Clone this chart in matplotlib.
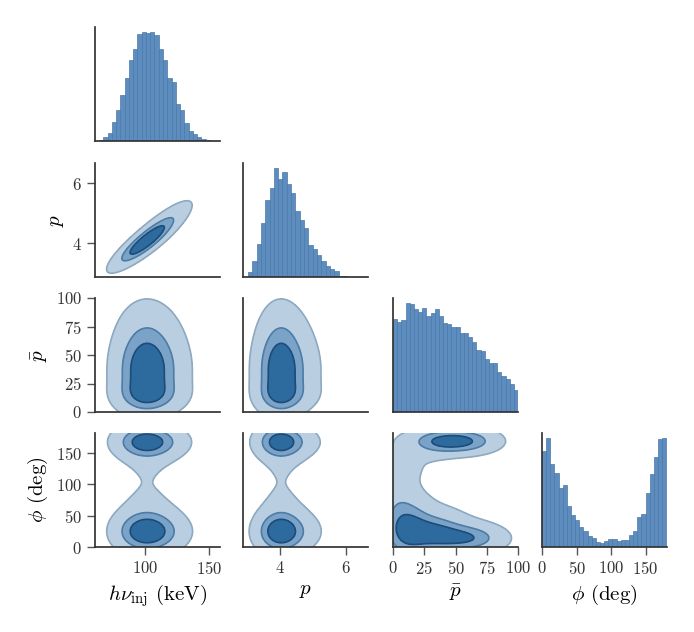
import numpy as np
import matplotlib.pyplot as plt

plt.rcParams['font.family'] = 'serif'
plt.rcParams['font.serif'] = ['cmr10']
plt.rcParams['mathtext.fontset'] = 'cm'
plt.rcParams['axes.formatter.use_mathtext'] = True

# diagonal histograms: bar heights
hv_counts = [4, 11, 24, 55, 92, 137, 185, 238, 272, 314, 320, 318, 320, 312,
             270, 238, 186, 174, 108, 92, 52, 30, 20, 12, 6, 3]
hv_range = (64.4, 150.8)
p_counts = [15, 47, 97, 160, 227, 265, 322, 292, 310, 277, 248, 195, 170, 145,
            95, 82, 64, 47, 32, 23, 17, 4, 3]
p_range = (3.03, 6.04)
pbar_counts = [274, 264, 270, 320, 319, 304, 294, 307, 282, 292, 304, 284, 262,
               258, 252, 250, 234, 234, 220, 207, 182, 179, 157, 144, 144, 117,
               107, 97, 82, 64]
pbar_range = (0, 100)
phi_counts = [280, 318, 242, 217, 173, 182, 119, 93, 80, 58, 47, 32, 25, 16, 13,
              19, 23, 22, 19, 20, 20, 35, 47, 87, 97, 159, 213, 265, 315, 318]
phi_range = (0, 180)

# blobs behind the contour panels, estimated from the contour outlines
# 2d: height, mean x, mean y, sd x, sd y, corr
hv_p_blobs = [
    (1.0, 99.0, 4.0, 14.5, 0.50, 0.87),
    (0.38, 113.0, 4.55, 16.0, 0.60, 0.85),
]
pbar_phi_blobs = [
    (0.65, 10.0, 28.0, 12.0, 32.0, 0.0),
    (0.60, 32.0, 22.0, 15.0, 19.0, 0.0),
    (0.60, 60.0, 14.0, 18.0, 14.0, 0.0),
    (0.12, 35.0, 45.0, 35.0, 35.0, -0.5),
    (0.14, 2.0, 100.0, 9.0, 45.0, 0.0),
    (0.56, 36.0, 168.0, 17.0, 13.0, 0.0),
    (0.56, 60.0, 168.0, 17.0, 13.0, 0.0),
    (0.11, 20.0, 130.0, 18.0, 25.0, 0.3),
]
# 1d: height, mean, sd (used for the mixed panels)
hv_1d = [(1.0, 99.0, 14.5), (0.39, 113.0, 16.0)]
p_1d = [(1.0, 3.98, 0.45), (0.32, 4.45, 0.6)]
pbar_1d = [(0.45, 14.0, 9.0), (0.8, 32.0, 20.0), (0.55, 58.0, 25.0)]
phi_1d = [(0.97, 24.0, 21.0), (0.136, 70.0, 25.0), (0.108, 125.0, 22.0),
          (0.9, 167.0, 17.0)]
level_frac = [0.12, 0.45, 0.7]

labels = [r'$h\nu_{\rm inj}$ (keV)', r'$p$', r'$\bar{p}$', r'$\phi$ (deg)']
limits = [(61.3, 158.6), (2.88, 6.67), (0, 100), (0, 181)]
ticks = [[100, 150], [4, 6], [0, 25, 50, 75, 100], [0, 50, 100, 150]]
counts = [hv_counts, p_counts, pbar_counts, phi_counts]
ranges = [hv_range, p_range, pbar_range, phi_range]
one_d = [hv_1d, p_1d, pbar_1d, phi_1d]
grids = [np.linspace(40, 180, 350), np.linspace(2.0, 7.5, 350),
         np.linspace(-30, 130, 350), np.linspace(-40, 220, 350)]

bar_color = '#5d8dbe'
fills = ['#b9cee1', '#7ba3c7', '#2d6a9e']
lines = ['#8ea9c0', '#4d7ca6', '#1d4c7b']


def bump2d(blobs, X, Y):
    Z = np.zeros_like(X)
    for h, mx, my, sx, sy, r in blobs:
        u = (X - mx) / sx
        v = (Y - my) / sy
        q = (u * u - 2 * r * u * v + v * v) / (1 - r * r)
        Z += h * np.exp(-q / 2)
    return Z


def bump1d(blobs, x):
    out = np.zeros_like(x)
    for h, m, s in blobs:
        out += h * np.exp(-0.5 * ((x - m) / s) ** 2)
    return out


def density(i, j):
    # column variable j on x, row variable i on y
    X, Y = np.meshgrid(grids[j], grids[i])
    if i < 2 and j < 2:
        return X, Y, bump2d(hv_p_blobs, X, Y)
    if i >= 2 and j >= 2:
        return X, Y, bump2d(pbar_phi_blobs, X, Y)
    return X, Y, np.outer(bump1d(one_d[i], grids[i]), bump1d(one_d[j], grids[j]))


fig = plt.figure(figsize=(6.94, 6.32), dpi=100)
W, H = 694, 632
lefts = [95, 243, 393, 542]
tops = [27, 163, 298, 433]
aw, ah = 125, 114

for i in range(4):
    for j in range(i + 1):
        ax = fig.add_axes([lefts[j] / W, (H - tops[i] - ah) / H, aw / W, ah / H])
        if i == j:
            lo, hi = ranges[i]
            edges = np.linspace(lo, hi, len(counts[i]) + 1)
            ax.hist(edges[:-1], bins=edges, weights=counts[i], color=bar_color,
                    edgecolor='#4a78a6', linewidth=0.5)
            ax.set_yticks([])
        else:
            X, Y, Z = density(i, j)
            top = Z.max()
            lv = [f * top for f in level_frac] + [top * 1.01]
            ax.contourf(X, Y, Z, levels=lv, colors=fills)
            ax.contour(X, Y, Z, levels=lv[:3], colors=lines, linewidths=1.2)
            ax.set_ylim(limits[i])
            ax.set_yticks(ticks[i])
        ax.set_xlim(limits[j])
        ax.set_xticks(ticks[j])
        for s in ['top', 'right']:
            ax.spines[s].set_visible(False)
        for s in ['left', 'bottom']:
            ax.spines[s].set_color('#333333')
            ax.spines[s].set_linewidth(1.25)
        ax.tick_params(colors='#555555', labelcolor='#333333', length=6,
                       width=1, labelsize=12)
        if i < 3:
            ax.tick_params(bottom=False, labelbottom=False)
        else:
            ax.set_xlabel(labels[j], fontsize=15)
        if j > 0:
            ax.tick_params(left=False, labelleft=False)
        elif i > 0:
            ax.set_ylabel(labels[i], fontsize=15)

fig.savefig('out.png', dpi=100)
